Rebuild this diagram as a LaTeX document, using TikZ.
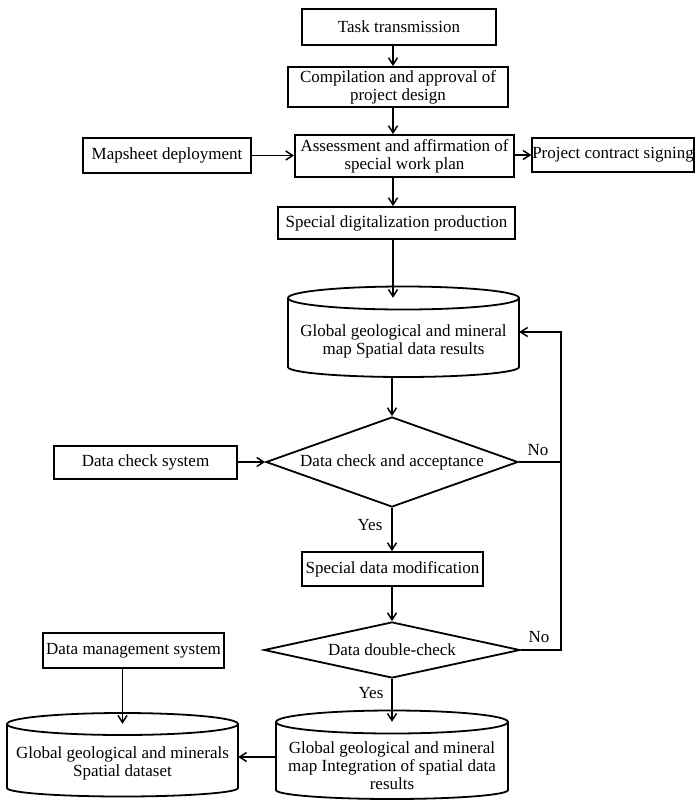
\documentclass[tikz,border=0pt]{standalone}
\usepackage{fontspec}
\setmainfont{Liberation Serif}
\usetikzlibrary{arrows.meta,shapes.geometric}
% x1, x2, y of top ellipse centre, y of bottom corners, top y-radius, bottom depth
\newcommand\cylout[6]{%
  \draw[shapeline] ({(#1+#2)/2},#3) ellipse [x radius={(#2-#1)/2}, y radius=#5];
  \draw[shapeline] (#1,#3) -- (#1,#4) arc[start angle=180,end angle=0,x radius={(#2-#1)/2},y radius=#6] -- (#2,#3);
}
\begin{document}
\begin{tikzpicture}[x=1pt,y=-1pt,
  font=\fontsize{17}{18}\selectfont,
  shapeline/.style={line width=1.8pt},
  box/.style={draw,line width=1.8pt,inner sep=0pt,align=center},
  dia/.style={draw,diamond,line width=1.8pt,inner sep=0pt,align=center},
  body/.style={inner sep=0pt},
  txt/.style={inner sep=0pt,align=center},
  lbl/.style={inner sep=0pt},
  ln/.style={line width=1.6pt},
  arr/.style={line width=1.6pt,-{Straight Barb[length=7pt,width=9pt,line width=1.5pt]}}]
\useasboundingbox (0,0) rectangle (700,804);
\coordinate (mx) at (393,0);
\coordinate (mx2) at (392,0);
\coordinate (fbx) at (561,0);

% top part
\node[box,minimum width=194pt,minimum height=36pt] (task) at (399,27) {Task transmission};
\node[box,minimum width=220pt,minimum height=40pt] (comp) at (398,87) {Compilation and approval of\\project design};
\node[box,minimum width=219pt,minimum height=42pt] (assess) at (404.5,156) {Assessment and affirmation of\\special work plan};
\node[box,minimum width=168pt,minimum height=35pt] (map) at (167,155.5) {Mapsheet deployment};
\node[box,minimum width=160pt,minimum height=34pt] (proj) at (613,155) {Project contract signing};
\node[box,minimum width=237pt,minimum height=32pt] (sdp) at (396.5,223) {Special digitalization production};

% cylinder 1
\cylout{288}{519}{298}{367}{11.5}{10}
\node[body,minimum width=231pt,minimum height=79pt] (cyl1) at (403.5,337.5) {};
\node[txt] (cyl1t) at (403.5,341) {Global geological and mineral\\map Spatial data results};

% decisions and checks
\node[dia,minimum width=252pt,minimum height=90pt,aspect=2.8] (d1) at (392,462) {Data check and acceptance};
\node[box,minimum width=183pt,minimum height=33pt] (dcs) at (145.5,462.5) {Data check system};
\node[box,minimum width=181pt,minimum height=34pt] (smd) at (392.5,569) {Special data modification};
\node[dia,minimum width=256pt,minimum height=56pt,aspect=4.57] (d2) at (392,650) {Data double-check};
\node[box,minimum width=181pt,minimum height=35pt] (dms) at (133.5,650.5) {Data management system};

% cylinder 2 and 3
\cylout{276}{508}{722}{790}{11.5}{9}
\node[body,minimum width=232pt,minimum height=77pt] (cyl2) at (392,760.5) {};
\node[txt] (cyl2t) at (392,766) {Global geological and mineral\\map Integration of spatial data\\results};
\cylout{7}{238}{724}{788}{11}{8.5}
\node[body,minimum width=231pt,minimum height=72.5pt] (cyl3) at (122.5,760.25) {};
\node[txt] (cyl3t) at (122.5,763) {Global geological and minerals\\Spatial dataset};

% labels
\node[lbl] (no1) at (538,450) {No};
\node[lbl] (no2) at (539,637) {No};
\node[lbl] (yes1) at (370,525) {Yes};
\node[lbl] (yes2) at (371,693) {Yes};

% connectors
\draw[arr] (task.south -| mx) -- (comp.north -| mx);
\draw[arr] (comp.south -| mx) -- (assess.north -| mx);
\draw[arr] (map.east) -- (assess.west |- map.east);
\draw[arr] (assess.east |- proj.west) -- (proj.west);
\draw[arr] (assess.south -| mx) -- (sdp.north -| mx);
\draw[arr] (sdp.south -| mx) -- (cyl1.north -| mx);
\draw[arr] (cyl1.south -| mx2) -- (d1.north);
\draw[arr] (dcs.east |- d1.west) -- (d1.west);
\draw[arr] (d1.south) -- (smd.north -| d1.south);
\draw[arr] (smd.south -| mx2) -- (d2.north);
\draw[arr] (d2.south) -- (cyl2.north -| d2.south);
\draw[ln] (d1.east) -- (d1.east -| fbx);
\draw[arr] (d2.east) -- (d2.east -| fbx) -- ([yshift=5.5pt]cyl1.east -| fbx) -- ([yshift=5.5pt]cyl1.east);
\draw[arr] (dms.south -| cyl3.north) -- (cyl3.north);
\draw[arr] ([yshift=3.5pt]cyl2.west) -- ([yshift=3.5pt]cyl3.east |- cyl2.west);
\end{tikzpicture}
\end{document}
